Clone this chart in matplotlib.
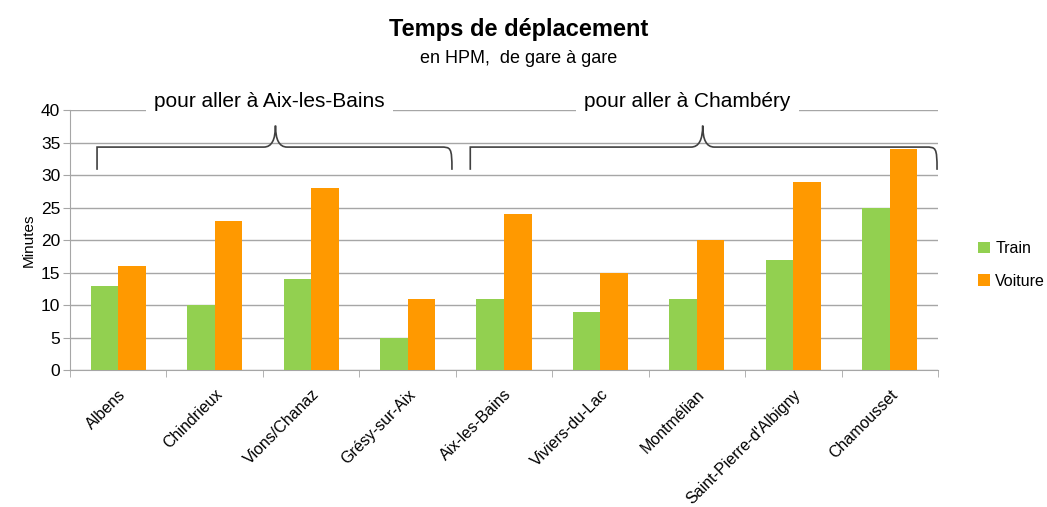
import matplotlib
matplotlib.use("Agg")
import matplotlib.pyplot as plt
import numpy as np
from matplotlib import font_manager
from matplotlib.path import Path
from matplotlib.patches import PathPatch

gares = ["Albens", "Chindrieux", "Vions/Chanaz", "Grésy-sur-Aix", "Aix-les-Bains",
         "Viviers-du-Lac", "Montmélian", "Saint-Pierre-d'Albigny", "Chamousset"]
train = [13, 10, 14, 5, 11, 9, 11, 17, 25]
voiture = [16, 23, 28, 11, 24, 15, 20, 29, 34]

groupes = ["pour aller à Aix-les-Bains", "pour aller à Chambéry"]

names = {f.name for f in font_manager.fontManager.ttflist}
base = "Liberation Sans Narrow" if "Liberation Sans Narrow" in names else "Liberation Sans"
plt.rcParams['font.family'] = [base, 'DejaVu Sans']

VERT = "#92D050"
ORANGE = "#FF9900"


def brace(ax, x0, x1, xm, y_low, y_mid, y_top):
    # accolade horizontale, pointe vers le haut en xm
    r = 0.12
    verts = [(x0, y_low), (x0, y_mid), (x0 + r * 0.1, y_mid), (x0 + r, y_mid),
             (xm - r, y_mid), (xm, y_mid), (xm, y_top),
             (xm, y_mid), (xm + r, y_mid),
             (x1 - r, y_mid), (x1 - r * 0.1, y_mid), (x1, y_mid), (x1, y_low)]
    codes = [Path.MOVETO, Path.LINETO, Path.CURVE4, Path.CURVE4,
             Path.LINETO, Path.CURVE3, Path.CURVE3,
             Path.CURVE3, Path.CURVE3,
             Path.LINETO, Path.CURVE4, Path.CURVE4, Path.LINETO]
    ax.add_patch(PathPatch(Path(verts, codes), fill=False, lw=1.2, color="#404040",
                           clip_on=False, zorder=4))


fig = plt.figure(figsize=(10.47, 5.07), dpi=100)
ax = fig.add_axes([0.0669, 0.270, 0.829, 0.513])

x = np.arange(len(gares))
w = 1 / 3.5
ax.bar(x - w / 2, train, w, color=VERT, label="Train", zorder=3)
ax.bar(x + w / 2, voiture, w, color=ORANGE, label="Voiture", zorder=3)

ax.set_xlim(-0.5, len(gares) - 0.5)
ax.set_ylim(0, 40)
ax.set_yticks(range(0, 41, 5))
ax.yaxis.grid(True, color="#A6A6A6", lw=1, zorder=0)
ax.tick_params(axis="y", length=5, color="#A6A6A6", labelsize=12.5, pad=2)

ax.set_xticks(x)
ax.set_xticklabels(gares, rotation=45, ha="right", rotation_mode="anchor", fontsize=11.5)
ax.tick_params(axis="x", length=0, pad=12)
ax.set_xticks(np.arange(-0.5, len(gares), 1), minor=True)
ax.tick_params(axis="x", which="minor", length=5, color="#A6A6A6")

for s in ["top", "right"]:
    ax.spines[s].set_visible(False)
ax.spines["left"].set_color("#A6A6A6")
ax.spines["bottom"].set_color("#A6A6A6")

ax.set_ylabel("Minutes", fontsize=11, labelpad=4)

# accolades et libellés des groupes
brace(ax, -0.22, 3.46, 1.63, 30.8, 34.3, 37.6)
brace(ax, 3.65, 8.49, 6.06, 30.8, 34.3, 37.6)
ax.text(1.57, 41.3, groupes[0], ha="center", va="center", fontsize=15,
        bbox=dict(facecolor="white", edgecolor="none", pad=6), zorder=5)
ax.text(5.9, 41.3, groupes[1], ha="center", va="center", fontsize=15,
        bbox=dict(facecolor="white", edgecolor="none", pad=6), zorder=5)

ax.legend(loc="center left", bbox_to_anchor=(1.03, 0.405), frameon=False, fontsize=11.5,
          handlelength=0.7, handleheight=0.7, handletextpad=0.35, labelspacing=1.1)

fig.text(0.495, 0.942, "Temps de déplacement", ha="center", va="center",
         fontsize=17, fontweight="bold")
fig.text(0.495, 0.884, "en HPM,  de gare à gare", ha="center", va="center", fontsize=13)

fig.savefig("out.png", dpi=100)
